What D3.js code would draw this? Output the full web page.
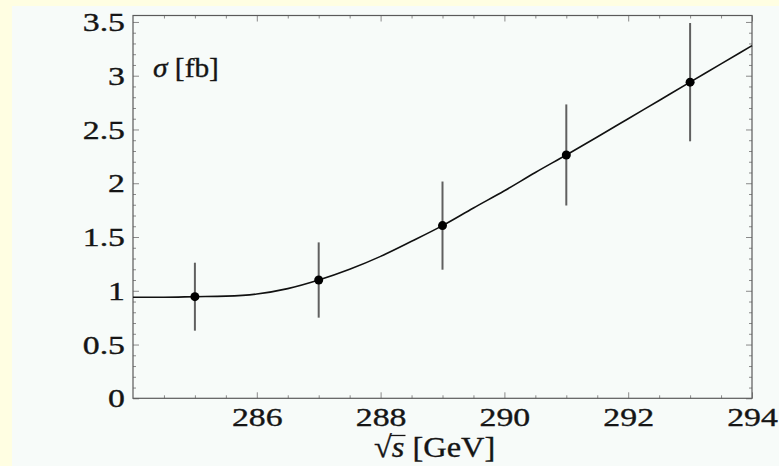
<!DOCTYPE html>
<html>
<head>
<meta charset="utf-8">
<script src="https://cdn.jsdelivr.net/npm/d3@7"></script>
<style>
  html, body { margin: 0; padding: 0; background: #fffee2; }
  svg { display: block; }
  text { font-family: "Liberation Serif", "Times New Roman", serif; fill: #151515; stroke: #151515; stroke-width: 0.35px; }
</style>
</head>
<body>
<svg id="chart" width="779" height="466"></svg>
<script>
// Measured cross sections at five centre-of-mass energies
const energies = [285, 287, 289, 291, 293];          // sqrt(s) [GeV]
const sigma    = [0.945, 1.10, 1.606, 2.263, 2.94];  // sigma [fb]
const errors   = [0.316, 0.35, 0.41, 0.47, 0.55];    // +/- uncertainty [fb]

// Theory curve sampled along sqrt(s)
const curveE   = [284, 284.5, 285, 285.5, 286, 286.5, 287, 287.5, 288, 288.5, 289,
                  289.5, 290, 290.5, 291, 291.5, 292, 292.5, 293, 293.5, 294];
const curveS   = [0.94, 0.94, 0.945, 0.95, 0.97, 1.02, 1.10, 1.20, 1.32, 1.46, 1.606,
                  1.77, 1.93, 2.10, 2.263, 2.43, 2.60, 2.77, 2.94, 3.11, 3.28];

// Tick labels
const xTicks = [286, 288, 290, 292, 294];
const yTicks = [0, 0.5, 1, 1.5, 2, 2.5, 3, 3.5];

const svg = d3.select("#chart");
const W = 779, H = 466;

// page background and the lighter panel behind the figure
svg.append("rect").attr("width", W).attr("height", H).attr("fill", "#fffee2");
svg.append("rect").attr("x", 12).attr("y", 6).attr("width", W - 12).attr("height", H - 6)
   .attr("fill", "#f7fbf9");

const x = d3.scaleLinear().domain([284, 294]).range([133, 752]);
const y = d3.scaleLinear().domain([0, 3.56]).range([398.3, 15.5]);

const frameColor = "#5a5a5a";
const tickColor = "#8a8a8a";

const xMinor = d3.range(284.5, 294, 0.5).filter(v => v % 2 !== 0);
const yMinor = d3.range(1, 36).map(i => i / 10).filter(v => Math.round(v * 10) % 5 !== 0);

function styleAxis(g) {
  g.select(".domain").remove();
  g.selectAll(".tick line").attr("stroke", tickColor).attr("stroke-width", 1);
}

// ticks on all four sides, pointing inward
svg.append("g").attr("transform", `translate(0,${y(0)})`)
  .call(d3.axisBottom(x).tickValues(xMinor).tickSize(-3).tickFormat("")).call(styleAxis);
const bottomMajor = svg.append("g").attr("transform", `translate(0,${y(0)})`)
  .call(d3.axisBottom(x).tickValues(xTicks).tickSize(-6).tickFormat(d3.format("d")))
  .call(styleAxis);

svg.append("g").attr("transform", `translate(0,${y.range()[1]})`)
  .call(d3.axisTop(x).tickValues(xMinor).tickSize(-3).tickFormat("")).call(styleAxis);
svg.append("g").attr("transform", `translate(0,${y.range()[1]})`)
  .call(d3.axisTop(x).tickValues(xTicks).tickSize(-6).tickFormat("")).call(styleAxis);

svg.append("g").attr("transform", `translate(${x(284)},0)`)
  .call(d3.axisLeft(y).tickValues(yMinor).tickSize(-3).tickFormat("")).call(styleAxis);
const leftMajor = svg.append("g").attr("transform", `translate(${x(284)},0)`)
  .call(d3.axisLeft(y).tickValues(yTicks).tickSize(-6).tickFormat(d3.format("")))
  .call(styleAxis);

svg.append("g").attr("transform", `translate(${x(294)},0)`)
  .call(d3.axisRight(y).tickValues(yMinor).tickSize(-3).tickFormat("")).call(styleAxis);
svg.append("g").attr("transform", `translate(${x(294)},0)`)
  .call(d3.axisRight(y).tickValues(yTicks).tickSize(-6).tickFormat("")).call(styleAxis);

// tick label typography: wide serif digits
const sx = 1.3;
bottomMajor.selectAll(".tick text")
  .attr("font-family", null).attr("font-size", 26).attr("fill", "#151515")
  .attr("text-anchor", "middle")
  .attr("x", 0).attr("y", 28).attr("dy", null)
  .attr("transform", `scale(${sx},1)`);
leftMajor.selectAll(".tick text")
  .attr("font-family", null).attr("font-size", 26).attr("fill", "#151515")
  .attr("text-anchor", "end")
  .attr("x", -8 / sx).attr("dy", "0.33em")
  .attr("transform", `scale(${sx},1)`);

// frame
svg.append("rect")
  .attr("x", x(284)).attr("y", y.range()[1])
  .attr("width", x(294) - x(284)).attr("height", y(0) - y.range()[1])
  .attr("fill", "none").attr("stroke", frameColor).attr("stroke-width", 1.2);

// theory curve
const line = d3.line().x(d => x(d[0])).y(d => y(d[1])).curve(d3.curveMonotoneX);
svg.append("path")
  .datum(curveE.map((e, i) => [e, curveS[i]]))
  .attr("d", line)
  .attr("fill", "none").attr("stroke", "#111").attr("stroke-width", 1.6);

// error bars and points
const pts = energies.map((e, i) => ({ e, s: sigma[i], err: errors[i] }));
svg.append("g").selectAll("line").data(pts).join("line")
  .attr("x1", d => x(d.e)).attr("x2", d => x(d.e))
  .attr("y1", d => y(d.s + d.err)).attr("y2", d => y(d.s - d.err))
  .attr("stroke", "#606060").attr("stroke-width", 2);
svg.append("g").selectAll("circle").data(pts).join("circle")
  .attr("cx", d => x(d.e)).attr("cy", d => y(d.s)).attr("r", 4.5)
  .attr("fill", "#000");

// in-plot label
const sl = svg.append("text").attr("font-size", 28)
  .attr("transform", "translate(153,77) scale(1.05,1)");
sl.append("tspan").attr("font-style", "italic").text("σ");
sl.append("tspan").text(" [fb]");

// x-axis title: sqrt(s) [GeV], with the radical's bar drawn over the s
const xg = svg.append("g").attr("transform", "translate(374,457) scale(1.08,1)");
const xt = xg.append("text").attr("font-size", 30);
xt.append("tspan").text("√");
xt.append("tspan").attr("font-style", "italic").text("s");
xt.append("tspan").text(" [GeV]");
const rad = xt.node().getExtentOfChar(0);
const sBox = xt.node().getExtentOfChar(1);
const barY = rad.y + rad.height * 0.16;
xg.append("line")
  .attr("x1", rad.x + rad.width - 1.5).attr("x2", sBox.x + sBox.width + 1)
  .attr("y1", barY).attr("y2", barY)
  .attr("stroke", "#151515").attr("stroke-width", 1.3);
</script>
</body>
</html>
